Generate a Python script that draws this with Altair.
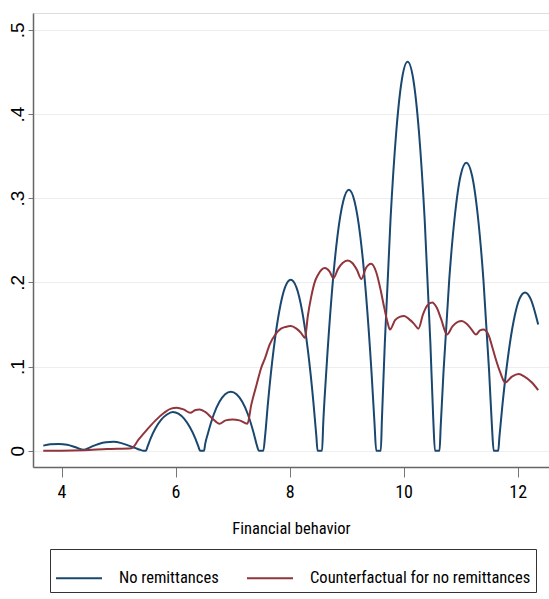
import altair as alt
import pandas as pd

# Kernel density: "No remittances"
x_blue = [3.68, 3.80, 3.95, 4.10, 4.25, 4.39,
          4.50, 4.65, 4.78, 4.91, 5.05, 5.18, 5.30, 5.38, 5.44, 5.48,
          5.51, 5.56, 5.65, 5.75, 5.85, 5.95, 6.05, 6.15, 6.25, 6.35, 6.40, 6.43,
          6.50, 6.52, 6.57, 6.67, 6.77, 6.87, 6.97, 7.07, 7.17, 7.27, 7.37, 7.42, 7.46,
          7.54, 7.57, 7.62, 7.72, 7.82, 7.92, 8.02, 8.12, 8.22, 8.32, 8.42, 8.47, 8.49,
          8.57, 8.59, 8.64, 8.74, 8.84, 8.94, 9.04, 9.14, 9.24, 9.34, 9.44, 9.49, 9.52,
          9.60, 9.62, 9.67, 9.77, 9.87, 9.97, 10.07, 10.17, 10.27, 10.37, 10.47, 10.52, 10.55,
          10.63, 10.65, 10.70, 10.80, 10.90, 11.00, 11.10, 11.20, 11.30, 11.40, 11.50, 11.55, 11.58,
          11.66, 11.68, 11.73, 11.83, 11.93, 12.03, 12.13, 12.23, 12.33, 12.36]
y_blue = [0.006, 0.0075, 0.008, 0.007, 0.004, 0.001,
          0.004, 0.008, 0.010, 0.0105, 0.009, 0.006, 0.003, 0.001, 0.0, 0.0,
          0.005, 0.014, 0.027, 0.037, 0.043, 0.046, 0.044, 0.038, 0.028, 0.014, 0.005, 0.0,
          0.0, 0.008, 0.021, 0.043, 0.058, 0.067, 0.070, 0.067, 0.058, 0.043, 0.021, 0.008, 0.0,
          0.0, 0.017, 0.056, 0.120, 0.166, 0.194, 0.203, 0.194, 0.166, 0.120, 0.056, 0.017, 0.0,
          0.0, 0.032, 0.090, 0.186, 0.255, 0.296, 0.310, 0.296, 0.255, 0.186, 0.090, 0.032, 0.0,
          0.0, 0.038, 0.127, 0.274, 0.378, 0.441, 0.462, 0.441, 0.378, 0.274, 0.127, 0.038, 0.0,
          0.0, 0.028, 0.094, 0.203, 0.280, 0.327, 0.342, 0.327, 0.280, 0.203, 0.094, 0.028, 0.0,
          0.0, 0.016, 0.052, 0.111, 0.154, 0.180, 0.188, 0.180, 0.158, 0.150]

# Kernel density: "Counterfactual for no remittances"
x_red = [3.68, 4.00, 4.39, 4.80, 5.23,
         5.35, 5.50, 5.65, 5.80, 5.92, 6.02, 6.14, 6.26,
         6.34, 6.42, 6.52, 6.65, 6.77,
         6.88, 7.00, 7.12, 7.26,
         7.33, 7.42, 7.50, 7.57, 7.65, 7.75, 7.85, 7.93, 8.02, 8.12, 8.20, 8.27,
         8.32, 8.38, 8.44, 8.50, 8.56, 8.62, 8.70, 8.77,
         8.85, 8.93, 9.02, 9.10, 9.18, 9.26,
         9.34, 9.43, 9.52, 9.60, 9.66, 9.72, 9.76,
         9.85, 9.93, 10.01, 10.10, 10.18, 10.26,
         10.34, 10.42, 10.50, 10.58, 10.66, 10.76,
         10.86, 10.95, 11.02, 11.10, 11.18, 11.27,
         11.34, 11.40, 11.48, 11.56, 11.62, 11.70, 11.78,
         11.90, 12.02, 12.12, 12.25, 12.36]
y_red = [0.0, 0.0, 0.0005, 0.002, 0.003,
         0.013, 0.025, 0.036, 0.045, 0.050, 0.051, 0.049, 0.045,
         0.048, 0.049, 0.046, 0.038, 0.032,
         0.036, 0.037, 0.036, 0.032,
         0.055, 0.078, 0.098, 0.110, 0.126, 0.138, 0.145, 0.147, 0.148, 0.145, 0.140, 0.134,
         0.160, 0.183, 0.200, 0.209, 0.215, 0.217, 0.213, 0.205,
         0.216, 0.223, 0.226, 0.223, 0.215, 0.204,
         0.217, 0.222, 0.212, 0.190, 0.170, 0.152, 0.144,
         0.155, 0.159, 0.160, 0.156, 0.151, 0.145,
         0.162, 0.173, 0.176, 0.170, 0.156, 0.138,
         0.148, 0.153, 0.154, 0.151, 0.145, 0.138,
         0.143, 0.144, 0.139, 0.122, 0.108, 0.092, 0.081,
         0.088, 0.091, 0.088, 0.081, 0.072]

series_names = ["No remittances", "Counterfactual for no remittances"]
series_colors = ["#1a476f", "#90353b"]
x_ticks = [4, 6, 8, 10, 12]
y_ticks = [0, 0.1, 0.2, 0.3, 0.4, 0.5]

df = pd.concat([
    pd.DataFrame({"x": x_blue, "y": y_blue, "series": series_names[0], "order": range(len(x_blue))}),
    pd.DataFrame({"x": x_red, "y": y_red, "series": series_names[1], "order": range(len(x_red))}),
])

NARROW = "Roboto Condensed, Liberation Sans Narrow, Arial Narrow, sans-serif"

chart = alt.Chart(df).mark_line(strokeWidth=2, interpolate="monotone").encode(
    x=alt.X("x:Q",
            scale=alt.Scale(domain=[3.5, 12.55], nice=False, zero=False),
            axis=alt.Axis(values=x_ticks, title="Financial behavior", grid=False,
                          tickSize=10, tickColor="#777777", tickWidth=1,
                          domainColor="#666666", domainWidth=1.5,
                          labelFont=NARROW, labelFontSize=18, labelColor="#000000",
                          labelPadding=6, labelFlush=False,
                          titleFont=NARROW, titleFontSize=16.5, titleFontWeight="normal",
                          titleColor="#000000", titleBaseline="alphabetic", titleY=66)),
    y=alt.Y("y:Q",
            scale=alt.Scale(domain=[-0.0194, 0.52], nice=False, zero=False),
            axis=alt.Axis(values=y_ticks, title=None, grid=True, gridColor="#eeeeee", gridWidth=1,
                          tickSize=5, tickColor="#777777", tickWidth=1,
                          domainColor="#666666", domainWidth=1.5,
                          labelAngle=270, labelAlign="center", labelBaseline="alphabetic",
                          labelFont="Liberation Sans, Arial, sans-serif", labelFontSize=19,
                          labelColor="#000000", labelPadding=5, labelFlush=False,
                          labelExpr="datum.value == 0 ? '0' : replace(format(datum.value, '.1f'), '0.', '.')")),
    color=alt.Color("series:N",
                    scale=alt.Scale(domain=series_names, range=series_colors),
                    legend=alt.Legend(orient="none", legendX=17, legendY=536, direction="horizontal",
                                      title=None, symbolType="stroke", symbolSize=2116,
                                      symbolStrokeWidth=2, labelFont=NARROW, labelFontSize=16.5,
                                      labelColor="#000000", labelOffset=16, columnPadding=24,
                                      labelLimit=400, padding=5, strokeColor="#333333",
                                      fillColor="#ffffff")),
    order="order:Q",
).properties(
    width=516,
    height=454,
    autosize=alt.AutoSizeParams(type="none"),
    padding={"left": 33, "top": 13, "right": 0, "bottom": 132},
).configure_view(stroke=None).configure(background="#ffffff")

chart.save("out.html", embed_options={"renderer": "svg", "actions": False})
